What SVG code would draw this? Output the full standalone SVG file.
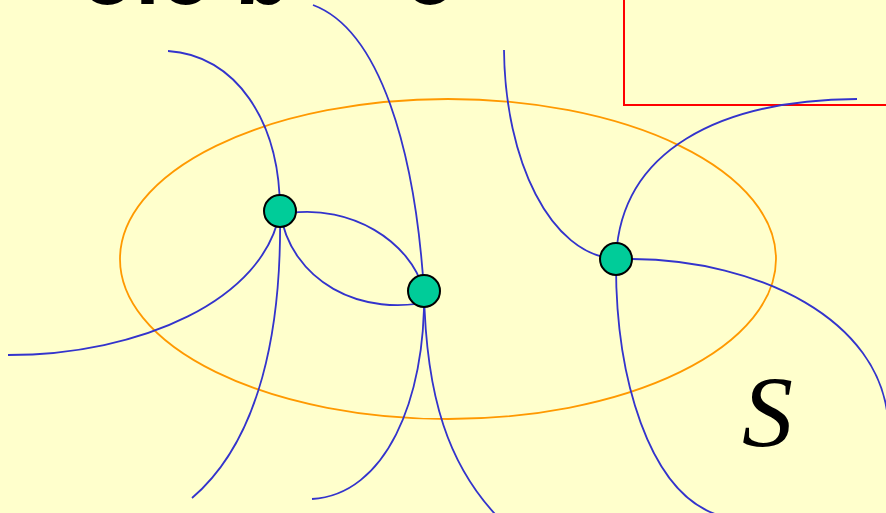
<svg xmlns="http://www.w3.org/2000/svg" width="886" height="513" viewBox="0 0 886 513">
<style>
.edge{fill:none;stroke:#3333CC;stroke-width:1.8}
.node{fill:#00CC99;stroke:#000;stroke-width:2}
</style>
<rect x="0" y="0" width="886" height="513" fill="#FFFFCC"/>
<text y="4" font-family="Liberation Sans, sans-serif" font-weight="bold" font-size="90" fill="#000"><tspan x="80">ole b</tspan><tspan x="404">c</tspan></text>
<rect x="624" y="-10" width="280" height="115" fill="none" stroke="#FF0000" stroke-width="2"/>
<ellipse cx="448" cy="259" rx="328" ry="160" fill="none" stroke="#FF9900" stroke-width="1.8"/>
<g id="connectors">
<path class="edge" d="M168,51 C235,55 280,120 280,211"/>
<path class="edge" d="M280,211 C265,300 140,355 8,355"/>
<path class="edge" d="M280,211 C282,330 260,440 192,498"/>
<path class="edge" d="M290,213 C350,205 410,240 424,291"/>
<path class="edge" d="M280,211 C290,280 360,320 437,300"/>
<path class="edge" d="M313,5 C380,30 415,150 424,291"/>
<path class="edge" d="M424,291 C426,400 385,495 312,499"/>
<path class="edge" d="M424,291 C426,400 450,465 495,514"/>
<path class="edge" d="M504,50 C505,160 550,255 616,259"/>
<path class="edge" d="M616,259 C620,150 720,100 857,99"/>
<path class="edge" d="M632,259 C760,260 880,320 888,420"/>
<path class="edge" d="M616,259 C615,380 650,490 715,514"/>
</g>
<g id="n1"><circle class="node" cx="280" cy="211" r="16"/></g>
<g id="n2"><circle class="node" cx="424" cy="291" r="16"/></g>
<g id="n3"><circle class="node" cx="616" cy="259" r="16"/></g>
<text x="742" y="447" font-family="Liberation Serif, serif" font-style="italic" font-size="102" fill="#000">S</text>
</svg>
